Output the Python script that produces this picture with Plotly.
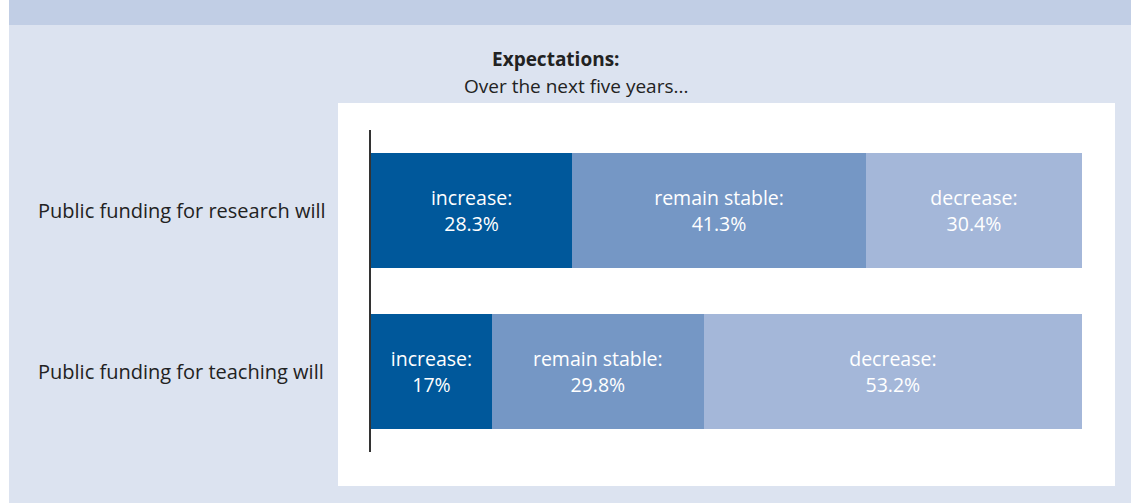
import plotly.graph_objects as go

# data
rows = ['Public funding for research will', 'Public funding for teaching will']
outcomes = ['increase', 'remain stable', 'decrease']
increase = [28.3, 17.0]
stable = [41.3, 29.8]
decrease = [30.4, 53.2]
value_text = {
    'increase': ['28.3%', '17%'],
    'remain stable': ['41.3%', '29.8%'],
    'decrease': ['30.4%', '53.2%'],
}

colors = {'increase': '#00589b', 'remain stable': '#7597c5', 'decrease': '#a4b7d9'}
FONT = 'Open Sans'
W, H = 1131, 503
L, R, T, B = 371, 1082, 130, 452   # plot area in pixels


def px(x):
    return (x - L) / (R - L)


def py(y):
    return (B - y) / (B - T)


fig = go.Figure()
for name, vals in zip(outcomes, [increase, stable, decrease]):
    fig.add_trace(go.Bar(
        name=name,
        y=rows,
        x=vals,
        orientation='h',
        marker_color=colors[name],
        marker_line_width=0,
        text=[name + ':<br>' + t for t in value_text[name]],
        textposition='inside',
        insidetextanchor='middle',
        textangle=0,
        textfont=dict(color='white', size=19.5, family=FONT),
        hoverinfo='skip',
    ))

shapes = [
    # header band
    dict(type='rect', xref='paper', yref='paper', x0=px(9), x1=px(W), y0=py(25), y1=py(0),
         fillcolor='#c1cee5', line_width=0, layer='below'),
    # panel
    dict(type='rect', xref='paper', yref='paper', x0=px(9), x1=px(W), y0=py(H), y1=py(25),
         fillcolor='#dce3f0', line_width=0, layer='below'),
    # white box
    dict(type='rect', xref='paper', yref='paper', x0=px(338), x1=px(1115), y0=py(486), y1=py(103),
         fillcolor='white', line_width=0, layer='below'),
]

annotations = [
    dict(text='<b>Expectations:</b>', x=px(556), y=py(59), xref='paper', yref='paper',
         xanchor='center', yanchor='middle',
         showarrow=False, font=dict(size=19, color='#222', family=FONT)),
    dict(text='Over the next five years...', x=px(576), y=py(86), xref='paper', yref='paper',
         xanchor='center', yanchor='middle',
         showarrow=False, font=dict(size=19, color='#222', family=FONT)),
]
for r in rows:
    annotations.append(dict(text=r, x=px(36), y=r, xref='paper', yref='y', xanchor='left',
                            showarrow=False, font=dict(size=20, color='#222', family=FONT)))

fig.update_layout(
    width=W, height=H,
    margin=dict(l=L, r=W - R, t=T, b=H - B, pad=0),
    barmode='stack',
    bargap=0.28,
    showlegend=False,
    paper_bgcolor='white',
    plot_bgcolor='rgba(0,0,0,0)',
    shapes=shapes,
    annotations=annotations,
    uniformtext=dict(minsize=10, mode='show'),
)
fig.update_xaxes(range=[0, 100], visible=False, fixedrange=True)
fig.update_yaxes(autorange='reversed', showticklabels=False, showgrid=False, zeroline=False,
                 showline=True, linecolor='#333', linewidth=2, ticks='', fixedrange=True)

fig.write_html("out.html", config={'displayModeBar': False},
               post_script="document.body.style.margin='0';")
